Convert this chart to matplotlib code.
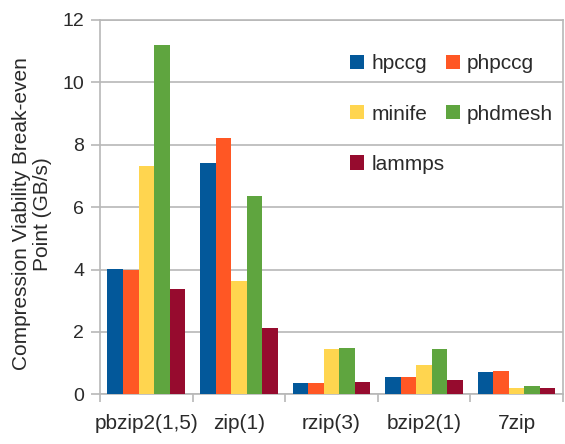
import numpy as np
import matplotlib.pyplot as plt
from matplotlib.patches import Patch

plt.rcParams['font.family'] = ['Liberation Sans', 'DejaVu Sans']

# --- Datos ---
categories = ["pbzip2(1,5)", "zip(1)", "rzip(3)", "bzip2(1)", "7zip"]
series = ["hpccg", "phpccg", "minife", "phdmesh", "lammps"]
hpccg = [4.03, 7.40, 0.35, 0.54, 0.70]
phpccg = [3.98, 8.21, 0.35, 0.54, 0.76]
minife = [7.32, 3.63, 1.44, 0.93, 0.20]
phdmesh = [11.19, 6.36, 1.48, 1.44, 0.28]
lammps = [3.38, 2.13, 0.40, 0.45, 0.21]
values = [hpccg, phpccg, minife, phdmesh, lammps]
colors = ["#03589a", "#ff5724", "#ffd54f", "#5fa53f", "#960b2e"]

grid_c = "#b8b8b8"
text_c = "#2a2a2a"
fs = 15

fig = plt.figure(figsize=(5.65, 4.44), dpi=100)
ax = fig.add_axes([0.177, 0.112, 0.819, 0.843])

x = np.arange(len(categories))
w = 0.168
for i, (name, vals, c) in enumerate(zip(series, values, colors)):
    ax.bar(x + (i - 2) * w, vals, width=w, color=c, label=name, zorder=3)

ax.set_xlim(-0.5, len(categories) - 0.5)
ax.set_ylim(0, 12)
ax.set_yticks(np.arange(0, 13, 2))
ax.yaxis.grid(True, color=grid_c, linewidth=1.2, zorder=0)
ax.set_axisbelow(True)

# ticks en los bordes de las categorías, etiquetas en el centro
ax.set_xticks(np.arange(-0.5, len(categories), 1.0))
ax.set_xticklabels([])
ax.set_xticks(x, minor=True)
ax.set_xticklabels(categories, minor=True)
ax.tick_params(axis="x", which="major", length=6, width=1.2, color=grid_c)
ax.tick_params(axis="x", which="minor", length=0, pad=14.5, labelsize=fs, labelcolor=text_c)
ax.tick_params(axis="y", length=6.5, width=1.2, color=grid_c, pad=5,
               labelsize=14, labelcolor=text_c)

for s in ax.spines.values():
    s.set_color(grid_c)
    s.set_linewidth(1.2)

ax.set_ylabel("Compression Viability Break-even\nPoint (GB/s)", fontsize=fs,
              color=text_c, linespacing=1.1)
ax.yaxis.set_label_coords(-0.104, 0.482)

# leyenda (orden por filas: se reordena para ncol=2)
order = [0, 2, 4, 1, 3]
handles = [Patch(facecolor=colors[k], label=series[k]) for k in order]
ax.legend(handles=handles, ncol=2, loc="upper left", bbox_to_anchor=(0.518, 0.936),
          frameon=False, fontsize=fs, handlelength=0.68, handleheight=0.68,
          handletextpad=0.34, columnspacing=0.05, labelspacing=1.5, borderpad=0,
          labelcolor=text_c)

plt.savefig("out.png", dpi=100)
